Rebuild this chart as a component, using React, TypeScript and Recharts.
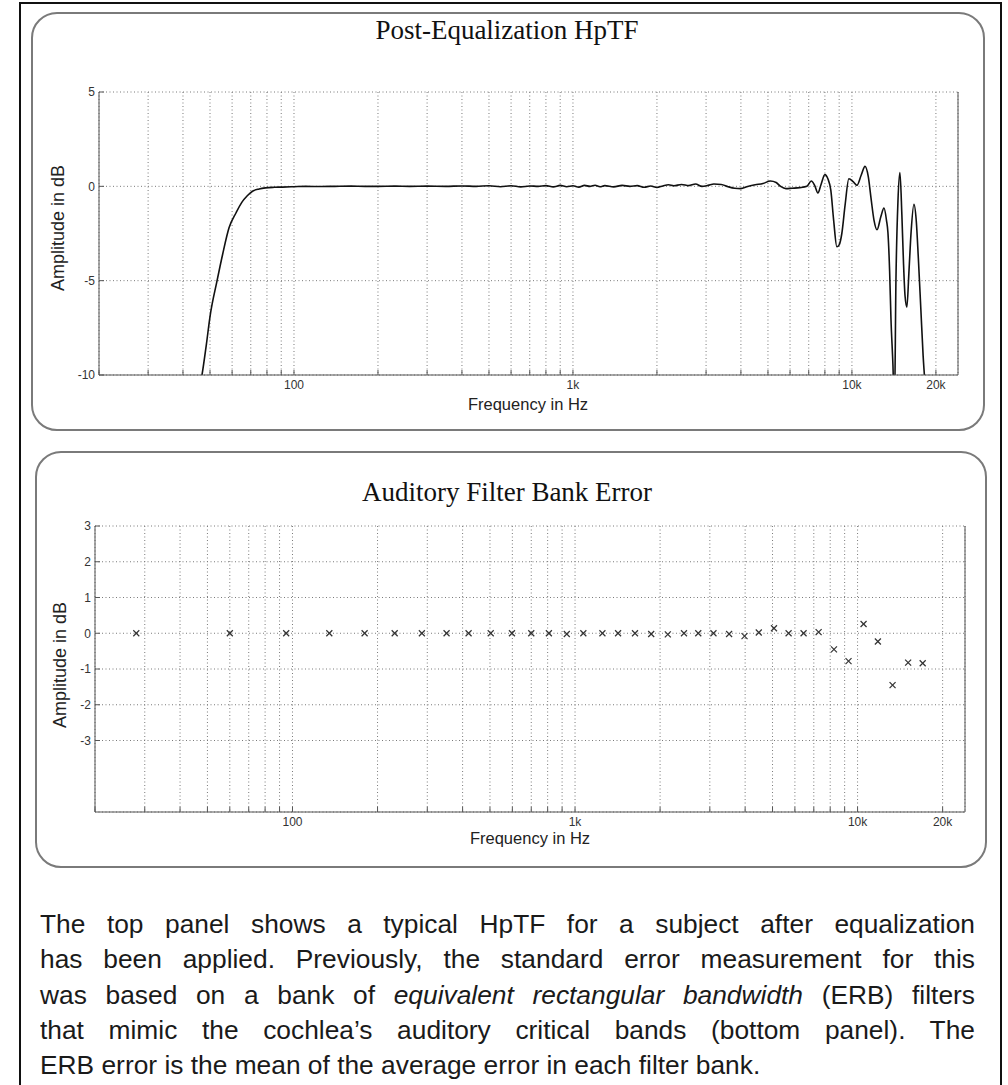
import React from 'react';
import {
  LineChart,
  Line,
  ScatterChart,
  Scatter,
  XAxis,
  YAxis,
  CartesianGrid,
} from 'recharts';

// ---------- data ----------
const freqTicks = [
  20, 30, 40, 50, 60, 70, 80, 90, 100, 200, 300, 400, 500, 600, 700, 800, 900,
  1000, 2000, 3000, 4000, 5000, 6000, 7000, 8000, 9000, 10000, 20000,
];
const freqTickLabels: Record<number, string> = {
  100: '100',
  1000: '1k',
  10000: '10k',
  20000: '20k',
};
const freqDomain = [20, 24000];

const hptfYTicks = [-10, -5, 0, 5];
const erbYTicks = [-3, -2, -1, 0, 1, 2, 3];

const hptfFreq = [
  45, 46.8, 48.5, 50, 53, 55.5, 58.5, 62, 65, 68, 71, 75, 79, 85, 91, 100,
  110, 125, 140, 160, 180, 200, 230, 260, 300, 350, 400, 450, 500, 550, 600,
  650, 700, 750, 800, 850, 900, 950, 1000, 1050, 1100, 1150, 1200, 1250, 1300,
  1400, 1500, 1600, 1700, 1800, 1900, 2000, 2100, 2200, 2300, 2450, 2600, 2750,
  2900, 3050, 3200, 3400, 3600, 3800, 4000, 4200, 4500, 4800, 5100, 5350, 5550,
  5800, 6100, 6500, 6900, 7150, 7350, 7550, 7750, 8000, 8200, 8400, 8600, 8830,
  9000, 9200, 9450, 9750, 10100, 10420, 10800, 11140, 11450, 11700, 12000,
  12300, 12700, 13030, 13300, 13460, 13650, 13800, 14030, 14200, 14380, 14620,
  14860, 15100, 15300, 15500, 15740, 16000, 16300, 16680, 17000, 17300, 17660,
  18000, 18270, 18600,
];
const hptfDb = [
  -11.2, -10, -8.4, -6.9, -5.0, -3.6, -2.2, -1.4, -0.85, -0.5, -0.26, -0.14,
  -0.08, -0.05, -0.04, -0.02, 0, -0.01, 0, 0.01, 0, 0, 0.01, 0, 0.01, 0, 0.02,
  0, 0.03, -0.02, 0.03, -0.03, 0.02, 0, 0.04, -0.03, 0.05, -0.02, 0.03, -0.04,
  0.05, 0, 0.06, -0.02, 0.04, -0.03, 0.05, 0, 0.04, -0.05, 0.02, -0.06, 0.02,
  0.08, 0.03, 0.1, 0.04, 0.12, 0, 0.05, 0.12, 0.1, -0.02, -0.1, -0.12, -0.02,
  0.08, 0.15, 0.28, 0.2, 0, -0.12, -0.1, -0.07, 0, 0.28, 0.05, -0.35, 0.1,
  0.62, 0.4, -0.2, -1.8, -3.2, -3.1, -2.5, -1.0, 0.4, 0.25, 0.05, 0.6, 1.06,
  0.5, -0.6, -1.8, -2.3, -1.6, -1.15, -1.8, -2.45, -4.5, -7, -9.5, -12, -5,
  -0.8, 0.73, -1.5, -4, -5.8, -6.4, -4.6, -2.4, -0.95, -1.8, -3.8, -6.5, -9,
  -10.5, -13,
];

const erbFreq = [
  28, 60, 95, 135, 180, 230, 287, 351, 420, 503, 598, 700, 808, 935, 1070,
  1250, 1420, 1630, 1860, 2130, 2430, 2730, 3090, 3510, 3980, 4470, 5060, 5700,
  6440, 7280, 8250, 9290, 10500, 11800, 13300, 15100, 17000,
];
const erbError = [
  0, 0, 0, 0, 0, 0, 0, 0, 0, 0, 0, 0, 0, -0.02, 0, 0, 0, 0, -0.02, -0.03, 0, 0,
  0, -0.02, -0.08, 0.02, 0.14, 0, 0, 0.03, -0.45, -0.78, 0.26, -0.23, -1.45,
  -0.82, -0.84,
];

const captionLines = [
  [{ t: 'The top panel shows a typical HpTF for a subject after equalization' }],
  [{ t: 'has been applied. Previously, the standard error measurement for this' }],
  [
    { t: 'was based on a bank of ' },
    { t: 'equivalent rectangular bandwidth', i: true },
    { t: ' (ERB) filters' },
  ],
  [{ t: 'that mimic the cochlea\u2019s auditory critical bands (bottom panel). The' }],
  [{ t: 'ERB error is the mean of the average error in each filter bank.' }],
];

const hptfData = hptfFreq.map((f, i) => ({ f, db: hptfDb[i] }));
const erbData = erbFreq.map((f, i) => ({ f, e: erbError[i] }));

// ---------- styles ----------
const SANS = '"Liberation Sans", Arial, Helvetica, sans-serif';
const SERIF = '"Liberation Serif", "Times New Roman", serif';
const tickStyle = { fontSize: 12, fill: '#333', fontFamily: SANS };
const gridColor = '#7a7a7a';
const gridDash = '1 2.5';
const boxColor = '#555';

const fmtFreq = (v: number) => freqTickLabels[v] ?? '';

const XMark = (props: any) => {
  const { cx, cy } = props;
  if (cx == null || cy == null) return null;
  const s = 3;
  return (
    <g>
      <line x1={cx - s} y1={cy - s} x2={cx + s} y2={cy + s} stroke="#333" strokeWidth={1.2} />
      <line x1={cx - s} y1={cy + s} x2={cx + s} y2={cy - s} stroke="#333" strokeWidth={1.2} />
    </g>
  );
};

const Panel = ({ left, top, width, height }: any) => (
  <div
    style={{
      position: 'absolute',
      left,
      top,
      width,
      height,
      boxSizing: 'border-box',
      border: '2px solid #7a7a7a',
      borderRadius: 26,
    }}
  />
);

const Title = ({ text, cy }: any) => (
  <div
    style={{
      position: 'absolute',
      left: 257,
      width: 500,
      top: cy - 16,
      height: 32,
      lineHeight: '32px',
      textAlign: 'center',
      fontFamily: SERIF,
      fontSize: 27,
      color: '#111',
    }}
  >
    {text}
  </div>
);

const XLabel = ({ cx, cy }: any) => (
  <div
    style={{
      position: 'absolute',
      left: cx - 100,
      width: 200,
      top: cy - 10,
      height: 20,
      lineHeight: '20px',
      textAlign: 'center',
      fontFamily: SANS,
      fontSize: 16.5,
      color: '#222',
    }}
  >
    Frequency in Hz
  </div>
);

const YLabel = ({ cx, cy }: any) => (
  <div
    style={{
      position: 'absolute',
      left: cx - 100,
      width: 200,
      top: cy - 10,
      height: 20,
      lineHeight: '20px',
      textAlign: 'center',
      fontFamily: SANS,
      fontSize: 18,
      color: '#222',
      transform: 'rotate(-90deg)',
    }}
  >
    Amplitude in dB
  </div>
);

function HptfChart() {
  // plot area: x 99..958, y 92..375
  return (
    <div style={{ position: 'absolute', left: 0, top: 0 }}>
      <LineChart
        width={1008}
        height={430}
        data={hptfData}
        margin={{ top: 92, right: 40, bottom: 25, left: 59 }}
      >
        <CartesianGrid stroke={gridColor} strokeDasharray={gridDash} />
        <XAxis
          dataKey="f"
          type="number"
          scale="log"
          domain={freqDomain}
          allowDataOverflow
          ticks={freqTicks}
          tickFormatter={fmtFreq}
          interval={0}
          height={30}
          tick={tickStyle}
          tickSize={-5}
          tickMargin={10}
          stroke={boxColor}
        />
        <XAxis
          xAxisId="top"
          orientation="top"
          type="number"
          scale="log"
          domain={freqDomain}
          allowDataOverflow
          ticks={freqTicks}
          interval={0}
          height={0}
          tick={false}
          tickSize={-5}
          stroke={boxColor}
        />
        <YAxis
          type="number"
          domain={[-10, 5]}
          allowDataOverflow
          ticks={hptfYTicks}
          interval={0}
          width={40}
          tick={tickStyle}
          tickSize={-5}
          tickMargin={9}
          stroke={boxColor}
        />
        <YAxis
          yAxisId="right"
          orientation="right"
          type="number"
          domain={[-10, 5]}
          allowDataOverflow
          ticks={hptfYTicks}
          interval={0}
          width={10}
          tick={false}
          tickSize={-5}
          stroke={boxColor}
        />
        <Line
          dataKey="db"
          type="monotone"
          stroke="#111"
          strokeWidth={1.6}
          dot={false}
          activeDot={false}
          isAnimationActive={false}
        />
      </LineChart>
    </div>
  );
}

function ErbChart() {
  // plot area: x 95..965, y 526..812
  return (
    <div style={{ position: 'absolute', left: 0, top: 440 }}>
      <ScatterChart
        width={1008}
        height={420}
        margin={{ top: 86, right: 33, bottom: 18, left: 55 }}
      >
        <CartesianGrid stroke={gridColor} strokeDasharray={gridDash} />
        <XAxis
          dataKey="f"
          type="number"
          scale="log"
          domain={freqDomain}
          allowDataOverflow
          ticks={freqTicks}
          tickFormatter={fmtFreq}
          interval={0}
          height={30}
          tick={tickStyle}
          tickSize={-5}
          tickMargin={10}
          stroke={boxColor}
        />
        <XAxis
          xAxisId="top"
          orientation="top"
          type="number"
          scale="log"
          domain={freqDomain}
          allowDataOverflow
          ticks={freqTicks}
          interval={0}
          height={0}
          tick={false}
          tickSize={-5}
          stroke={boxColor}
        />
        <YAxis
          dataKey="e"
          type="number"
          domain={[-5, 3]}
          allowDataOverflow
          ticks={erbYTicks}
          interval={0}
          width={40}
          tick={tickStyle}
          tickSize={-5}
          tickMargin={9}
          stroke={boxColor}
        />
        <YAxis
          yAxisId="right"
          orientation="right"
          type="number"
          domain={[-5, 3]}
          allowDataOverflow
          ticks={erbYTicks}
          interval={0}
          width={10}
          tick={false}
          tickSize={-5}
          stroke={boxColor}
        />
        <Scatter data={erbData} shape={<XMark />} isAnimationActive={false} />
      </ScatterChart>
    </div>
  );
}

const CAPTION_SCALE = 1.013;

export default function App() {
  return (
    <div
      style={{
        position: 'absolute',
        left: 0,
        top: 0,
        width: 1008,
        height: 1085,
        overflow: 'hidden',
        background: '#fff',
      }}
    >
      <div
        style={{
          position: 'absolute',
          left: 19,
          top: 2,
          width: 983,
          height: 1200,
          boxSizing: 'border-box',
          border: '2px solid #111',
        }}
      />
      <Panel left={31} top={12} width={954} height={419} />
      <Panel left={35} top={451} width={952} height={417} />
      <Title text="Post-Equalization HpTF" cy={30} />
      <Title text="Auditory Filter Bank Error" cy={492} />
      <HptfChart />
      <ErbChart />
      <XLabel cx={528} cy={404} />
      <XLabel cx={530} cy={838} />
      <YLabel cx={58} cy={228} />
      <YLabel cx={60} cy={665} />
      {captionLines.map((segs, li) => (
        <div
          key={li}
          style={{
            position: 'absolute',
            left: 40,
            width: 935 / CAPTION_SCALE,
            top: 924 + li * 35.3 - 17,
            height: 34,
            lineHeight: '34px',
            fontFamily: SANS,
            fontSize: 26,
            color: '#1a1a1a',
            textAlign: 'justify',
            textAlignLast: li < captionLines.length - 1 ? 'justify' : 'left',
            whiteSpace: 'nowrap',
            transform: `scaleX(${CAPTION_SCALE})`,
            transformOrigin: 'left center',
          }}
        >
          {segs.map((s: any, si) => (
            <span key={si} style={{ fontStyle: s.i ? 'italic' : 'normal' }}>
              {s.t}
            </span>
          ))}
        </div>
      ))}
    </div>
  );
}
